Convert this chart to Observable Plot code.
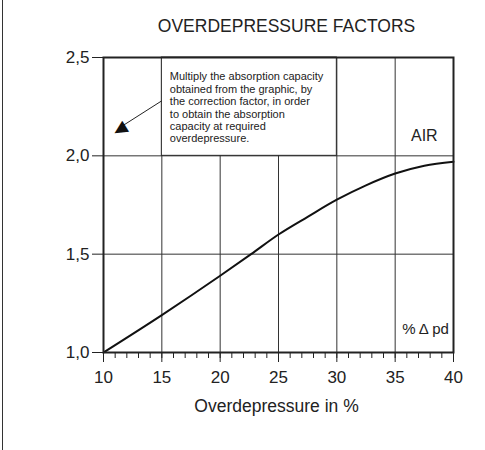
<!DOCTYPE html>
<html>
<head>
<meta charset="utf-8">
<script src="https://cdn.jsdelivr.net/npm/d3@7"></script>
<script src="https://cdn.jsdelivr.net/npm/@observablehq/plot@0.6"></script>
<style>
  body { margin: 0; background: #fff; }
  #wrap { position: relative; width: 485px; height: 450px; }
  #border { position: absolute; left: 2px; top: 0; width: 0; height: 450px; border-left: 1.5px solid #333; }
  #chart { position: absolute; left: 0; top: 0; }
</style>
</head>
<body>
<div id="wrap"><div id="border"></div><div id="chart"></div></div>
<script>
// Data
const overpressure = [10, 15, 20, 22.65, 25, 27.5, 30, 32.5, 35, 37.5, 40];
const factor       = [1.0, 1.19, 1.39, 1.5, 1.6, 1.69, 1.777, 1.85, 1.91, 1.95, 1.97];
const xMajorTicks = [10, 15, 20, 25, 30, 35, 40];
const xMinorTicks = d3.range(10, 41, 1);
const yTicks = [1.0, 1.5, 2.0, 2.5];
const xGrid = [15, 20, 25, 30, 35];
const yGrid = [1.5, 2.0];
const title = "OVERDEPRESSURE FACTORS";
const xLabel = "Overdepressure in %";
const noteLines = [
  "Multiply the absorption capacity",
  "obtained from the graphic, by",
  "the correction factor, in order",
  "to obtain the absorption",
  "capacity at required",
  "overdepressure."
];

const curve = overpressure.map((x, i) => ({x, y: factor[i]}));
const fmt = d => d.toFixed(1).replace(".", ",");

const chart = Plot.plot({
  width: 485,
  height: 450,
  marginLeft: 103,
  marginRight: 32,
  marginTop: 57,
  marginBottom: 98,
  style: {fontFamily: "'Liberation Sans', Arial, Helvetica, sans-serif", color: "#222", background: "transparent", overflow: "visible"},
  x: {domain: [10, 40]},
  y: {domain: [1.0, 2.5]},
  marks: [
    Plot.ruleX(xGrid, {stroke: "#333", strokeWidth: 1}),
    Plot.ruleY(yGrid, {stroke: "#333", strokeWidth: 1}),
    // annotation box
    Plot.rect([{x1: 15, x2: 30, y1: 2.0, y2: 2.5}], {x1: "x1", x2: "x2", y1: "y1", y2: "y2", fill: "white", stroke: "#222", strokeWidth: 1}),
    Plot.text([noteLines.join("\n")], {x: 15, y: 2.5, dx: 8, dy: 14, textAnchor: "start", lineAnchor: "top", fontSize: 11, lineHeight: 1.13, fill: "#222"}),
    // arrow
    Plot.link([{x1: 15, y1: 2.28, x2: 11.3, y2: 2.14}], {x1: "x1", y1: "y1", x2: "x2", y2: "y2", stroke: "#222", strokeWidth: 1}),
    Plot.text(["▲"], {x: 11.35, y: 2.13, rotate: 238.5, fontSize: 17, fontFamily: "'DejaVu Sans', sans-serif", fill: "#111"}),
    // curve
    Plot.line(curve, {x: "x", y: "y", curve: "monotone-x", stroke: "#111", strokeWidth: 2}),
    // labels
    Plot.text(["AIR"], {x: 37.5, y: 2.1, fontSize: 16, fill: "#222"}),
    Plot.text(["% Δ pd"], {x: 37.6, y: 1.12, fontSize: 15, fill: "#222"}),
    Plot.frame({stroke: "#222", strokeWidth: 2}),
    // axes
    Plot.axisX(xMinorTicks, {tickSize: 6, tickFormat: () => "", stroke: "#222"}),
    Plot.axisX(xMajorTicks, {tickSize: 10, tickPadding: 8, fontSize: 17, tickFormat: d => String(d), label: null, stroke: "#222"}),
    Plot.axisY(yTicks, {tickSize: 11, tickPadding: 3, fontSize: 17, tickFormat: fmt, label: null, stroke: "#222"}),
    Plot.text([title], {frameAnchor: "top", dx: 8, dy: -38, fontSize: 17.5, fill: "#222"}),
    Plot.text([xLabel], {frameAnchor: "bottom", dx: -2, dy: 59, fontSize: 17.5, fill: "#222"})
  ]
});
document.getElementById("chart").appendChild(chart);
</script>
</body>
</html>
